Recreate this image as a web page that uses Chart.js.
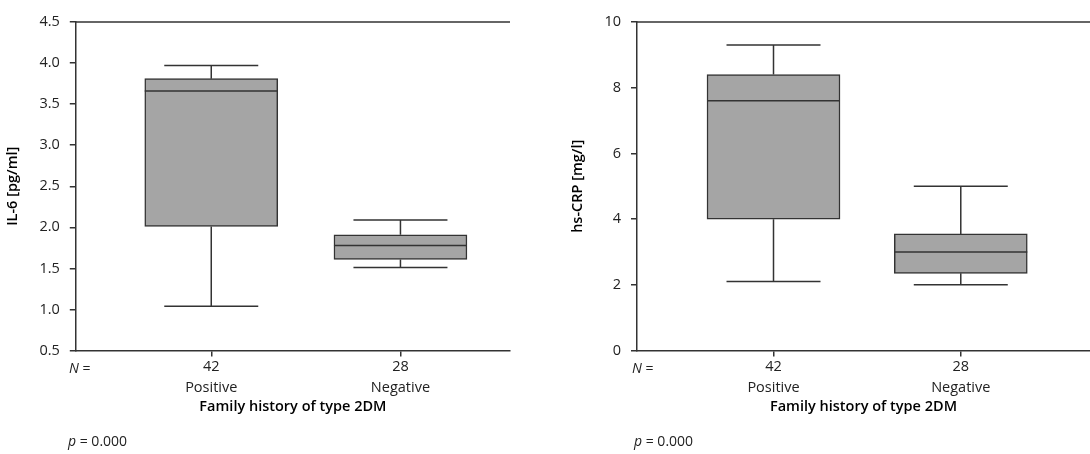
<!DOCTYPE html><html><head><meta charset="utf-8">
<script src="https://cdn.jsdelivr.net/npm/chart.js@4"></script>
<style>
body{margin:0;background:#fff;font-family:"Open Sans";}
.w{position:absolute;top:0;width:545px;height:454px}
.t{position:absolute;font-family:"Open Sans";font-size:14px;color:#222}
</style></head><body>
<div class="w" style="left:0"><canvas id="c1" width="545" height="454"></canvas></div>
<div class="w" style="left:545px"><canvas id="c2" width="545" height="454"></canvas></div>
<div class="t" style="left:69px;top:358px"><i>N</i> =</div>
<div class="t" style="left:632px;top:358px"><i>N</i> =</div>
<div class="t" style="left:68px;top:431px"><i>p</i> = 0.000</div>
<div class="t" style="left:634px;top:431px"><i>p</i> = 0.000</div>
<script>
const categories=["Positive","Negative"];
const counts=["42","28"];
const il6Min=[1.04,1.51], il6Q1=[2.01,1.61], il6Med=[3.66,1.78], il6Q3=[3.81,1.91], il6Max=[3.97,2.09];
const crpMin=[2.1,2.0], crpQ1=[4.0,2.35], crpMed=[7.6,3.0], crpQ3=[8.4,3.55], crpMax=[9.3,5.0];
const il6Ticks=[0.5,1.0,1.5,2.0,2.5,3.0,3.5,4.0,4.5];
const crpTicks=[0,2,4,6,8,10];
const F="'Open Sans'";
const C="#333";
const whisk={id:'whisk',afterDatasetsDraw(ch){
  const o=ch.options.plugins.whisk, x=ch.scales.x, y=ch.scales.y, g=ch.ctx;
  g.save();g.strokeStyle=C;g.lineWidth=1.5;
  g.beginPath();g.moveTo(ch.chartArea.left,ch.chartArea.top);g.lineTo(ch.chartArea.right,ch.chartArea.top);g.stroke();
  const hb=133/2, hc=47;
  for(let i=0;i<o.min.length;i++){
    const cx=x.getPixelForValue(i+1);
    const p=v=>y.getPixelForValue(v);
    g.beginPath();
    g.moveTo(cx,p(o.q3[i]));g.lineTo(cx,p(o.max[i]));
    g.moveTo(cx-hc,p(o.max[i]));g.lineTo(cx+hc,p(o.max[i]));
    g.moveTo(cx,p(o.q1[i]));g.lineTo(cx,p(o.min[i]));
    g.moveTo(cx-hc,p(o.min[i]));g.lineTo(cx+hc,p(o.min[i]));
    g.moveTo(cx-hb,p(o.med[i]));g.lineTo(cx+hb,p(o.med[i]));
    g.stroke();
  }
  g.restore();
}};
function make(id,q1,q3,mn,md,mx,ticks,ymin,ymax,title,xmin,xmax,fmt,padL,padR){
  new Chart(document.getElementById(id),{
    type:'bar',
    data:{datasets:[{data:q1.map((v,i)=>({x:i+1,y:[v,q3[i]]})),backgroundColor:'#a5a5a5',borderColor:C,borderWidth:1.5,borderSkipped:false,barThickness:133,grouped:false}]},
    options:{responsive:false,animation:false,layout:{padding:{top:22,right:padR,left:padL,bottom:34}},
      plugins:{legend:{display:false},tooltip:{enabled:false},whisk:{min:mn,q1:q1,med:md,q3:q3,max:mx}},
      scales:{
        x:{type:'linear',offset:false,min:xmin,max:xmax,afterBuildTicks:a=>{a.ticks=[{value:1},{value:2}]},
          grid:{offset:false,drawOnChartArea:false,tickLength:6,color:C,lineWidth:1.5},border:{color:C,width:1.5},
          ticks:{callback:v=>[counts[v-1],categories[v-1]],color:'#222',font:{family:F,size:14.5,lineHeight:1.45},padding:0},
          title:{display:true,text:'Family history of type 2DM',color:'#000',font:{family:F,size:14.5,weight:'600'},padding:{top:0}}},
        y:{min:ymin,max:ymax,afterBuildTicks:a=>{a.ticks=ticks.map(v=>({value:v}))},
          grid:{drawOnChartArea:false,tickLength:6,color:C,lineWidth:1.5},border:{color:C,width:1.5},
          ticks:{callback:fmt,color:'#222',font:{family:F,size:14.5},padding:10},
          title:{display:true,text:title,color:'#000',font:{family:F,size:14.5,weight:'600'},padding:{bottom:8}}}
      }},
    plugins:[whisk]});
}
make('c1',il6Q1,il6Q3,il6Min,il6Med,il6Max,il6Ticks,0.5,4.5,'IL-6 [pg/ml]',0.284,2.579,v=>v.toFixed(1),0,35);
make('c2',crpQ1,crpQ3,crpMin,crpMed,crpMax,crpTicks,0,10,'hs-CRP [mg/l]',0.271,2.69,v=>v,20,0);
</script></body></html>
